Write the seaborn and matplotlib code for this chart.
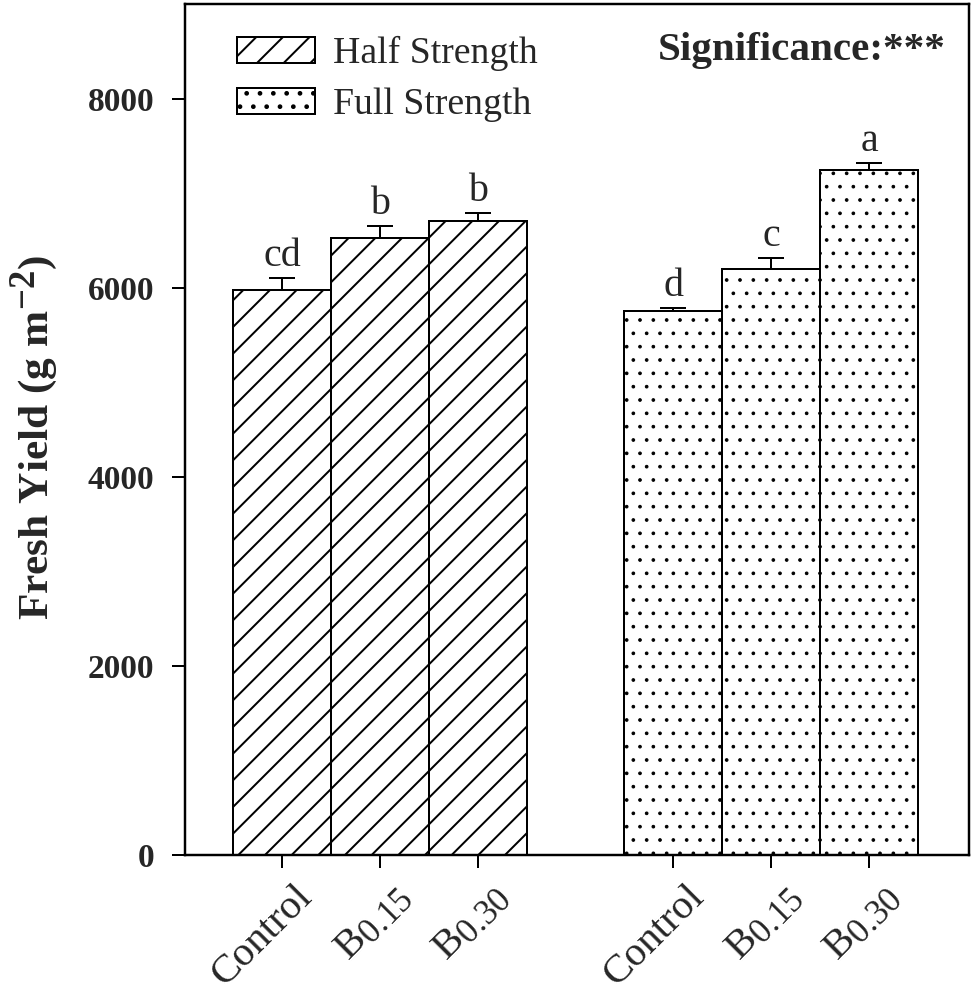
import matplotlib
matplotlib.use('Agg')
import matplotlib.pyplot as plt
import matplotlib.transforms as mtransforms
from matplotlib.patches import Patch
import seaborn as sns
import pandas as pd
import numpy as np

try:
    import matplotlib._mathtext as _mt
    _mt.SHRINK_FACTOR = 0.85
except Exception:
    pass

# ---- data ----
treatments = ['Control', 'B$_{0.15}$', 'B$_{0.30}$']
strengths = ['Half Strength', 'Full Strength']
half_vals = [5980, 6520, 6710]
full_vals = [5750, 6200, 7240]
half_err = [125, 130, 75]
full_err = [35, 115, 75]
half_letters = ['cd', 'b', 'b']
full_letters = ['d', 'c', 'a']
y_ticks = [0, 2000, 4000, 6000, 8000]
y_label = 'Fresh Yield (g m$^{\\mathbf{-2}}$)'
significance = 'Significance:***'

sns.set_style('ticks')
plt.rcParams['font.family'] = ['Liberation Serif', 'DejaVu Serif']
plt.rcParams['mathtext.fontset'] = 'custom'
plt.rcParams['mathtext.rm'] = 'Liberation Serif'
plt.rcParams['mathtext.it'] = 'Liberation Serif:italic'
plt.rcParams['mathtext.bf'] = 'Liberation Serif:bold'
plt.rcParams['hatch.linewidth'] = 0.9
plt.rcParams['hatch.color'] = 'black'

DPI = 160
fig = plt.figure(figsize=(975 / DPI, 994 / DPI), dpi=DPI)
ax = fig.add_axes([185 / 975, 1 - 855 / 994, 784 / 975, 851 / 994])

positions = [0, 1, 2, 4, 5, 6]
df = pd.DataFrame({
    'pos': positions,
    'value': half_vals + full_vals,
    'err': half_err + full_err,
    'strength': [strengths[0]] * 3 + [strengths[1]] * 3,
    'letter': half_letters + full_letters,
    'label': treatments * 2,
})

sns.barplot(data=df, x='pos', y='value', hue='strength', hue_order=strengths,
            palette={s: 'white' for s in strengths}, saturation=1,
            native_scale=True, dodge=False, width=1.0,
            edgecolor='black', linewidth=0.9, errorbar=None, legend=False, ax=ax)

hatches = {'Half Strength': '//', 'Full Strength': '..'}
hatch_lw = {'Half Strength': 0.9, 'Full Strength': 0.45}


def style_patch(p, s):
    p.set_hatch(hatches[s])
    if hasattr(p, 'set_hatch_linewidth'):
        p.set_hatch_linewidth(hatch_lw[s])


for cont, s in zip(ax.containers, strengths):
    for bar in cont:
        style_patch(bar, s)

ax.errorbar(df['pos'], df['value'], yerr=[np.zeros(len(df)), df['err']], fmt='none',
            ecolor='black', elinewidth=0.9, capsize=5.85, capthick=0.9, zorder=3)

for x, v, e, t in zip(df['pos'], df['value'], df['err'], df['letter']):
    ax.annotate(t, (x, v + e), xytext=(0, 5.5), textcoords='offset points',
                ha='center', va='baseline', fontsize=18)

ax.set_xlim(-0.99, 7.02)
ax.set_ylim(0, 9000)
ax.set_yticks(y_ticks)
ax.set_yticklabels([str(t) for t in y_ticks], fontsize=15, fontweight='bold')
ax.set_xlabel('')
ax.set_ylabel(y_label, fontsize=19.5, fontweight='bold')
ax.yaxis.set_label_coords(-0.16, 0.49)

ax.tick_params(axis='both', direction='out', length=5.85, width=0.9, color='black')
ax.tick_params(axis='y', pad=8)
ax.tick_params(axis='x', pad=4.5)
ax.set_xticks(positions)
ax.set_xticklabels(df['label'], rotation=45, ha='right', va='top',
                   rotation_mode='anchor', fontsize=18.5)
offset = mtransforms.ScaledTranslation(12 / DPI, 0, fig.dpi_scale_trans)
for lab in ax.get_xticklabels():
    lab.set_transform(lab.get_transform() + offset)

for sp in ax.spines.values():
    sp.set_visible(True)
    sp.set_linewidth(1.1)
    sp.set_color('black')

handles = []
for s in strengths:
    h = Patch(facecolor='white', edgecolor='black', linewidth=0.9, label=s)
    style_patch(h, s)
    handles.append(h)
ax.legend(handles=handles, loc='upper left', bbox_to_anchor=(0.0665, 0.962), frameon=False,
          fontsize=17, handlelength=2.06, handleheight=0.66, handletextpad=0.48,
          labelspacing=0.43, borderpad=0, borderaxespad=0)

ax.text(0.9706, 0.945, significance, transform=ax.transAxes, ha='right', va='center',
        fontsize=18.5, fontweight='bold')

fig.savefig('out.png', dpi=DPI)
